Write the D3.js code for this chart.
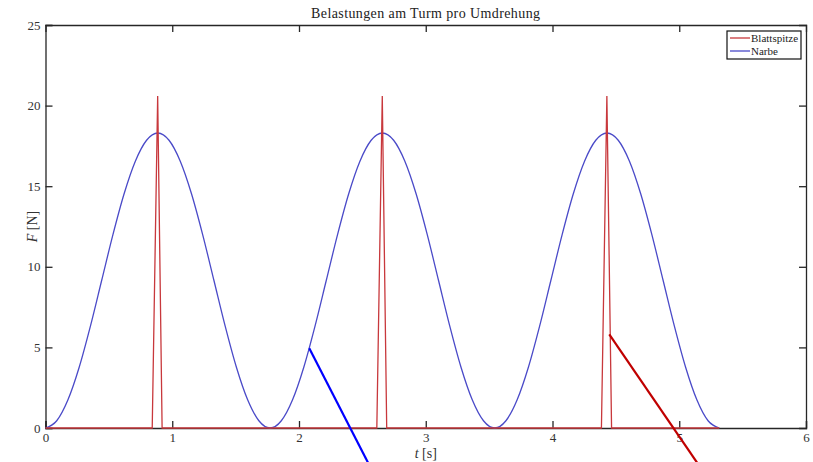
<!DOCTYPE html>
<html>
<head>
<meta charset="utf-8">
<script src="https://cdn.jsdelivr.net/npm/d3@7"></script>
<style>
  body { margin: 0; background: #fff; }
  svg { display: block; font-family: "Liberation Serif", "Times New Roman", serif; }
</style>
</head>
<body>
<div id="chart"></div>
<script>
// Narbe: one value every ~0.0886 s (three humps)
var narbeT = [];
var narbeHump = [0, 0.45, 1.75, 3.77, 6.32, 9.15, 11.98, 14.53, 16.55, 17.85, 18.3,
                 17.85, 16.55, 14.53, 11.98, 9.15, 6.32, 3.77, 1.75, 0.45];
var narbeF = [].concat(narbeHump, narbeHump, narbeHump, [0]);
var narbeStep = 0.0886;
narbeF.forEach(function(d, i) { narbeT.push(i * narbeStep); });

// Blattspitze: short spikes once per turn
var blattT = [0, 0.842, 0.885, 0.92, 2.614, 2.657, 2.692, 4.386, 4.429, 4.466, 5.316];
var blattF = [0, 0,     20.6,  0,    0,     20.6,  0,     0,     20.6,  0,     0];

// the two annotation strokes (run off the bottom of the page)
var blueMarkT = [2.081, 2.6];
var blueMarkF = [4.95, -3];
var redMarkT = [4.448, 5.215];
var redMarkF = [5.81, -3];

var xTicks = [0, 1, 2, 3, 4, 5, 6];
var yTicks = [0, 5, 10, 15, 20, 25];

var W = 813, H = 462;
var margin = {top: 25, right: 7, bottom: 34, left: 45.5};
var width = W - margin.left - margin.right,
    height = H - margin.top - margin.bottom;

var svg = d3.select("#chart").append("svg")
  .attr("width", W)
  .attr("height", H);

var g = svg.append("g")
  .attr("transform", "translate(" + margin.left + "," + margin.top + ")");

var x = d3.scaleLinear().domain([0, 6]).range([0, width]);
var y = d3.scaleLinear().domain([0, 25]).range([height, 0]);

var axisColor = "#262626";

// axes with inward ticks on all four sides
var xAxis = g.append("g")
  .attr("transform", "translate(0," + height + ")")
  .call(d3.axisBottom(x).tickValues(xTicks).tickSize(-7).tickPadding(5).tickFormat(d3.format("d")));
var xTop = g.append("g")
  .call(d3.axisTop(x).tickValues(xTicks).tickSize(-7).tickFormat(""));
var yAxis = g.append("g")
  .call(d3.axisLeft(y).tickValues(yTicks).tickSize(-7).tickPadding(5).tickFormat(d3.format("d")));
var yRight = g.append("g")
  .attr("transform", "translate(" + width + ",0)")
  .call(d3.axisRight(y).tickValues(yTicks).tickSize(-7).tickFormat(""));

[xAxis, xTop, yAxis, yRight].forEach(function(a) {
  a.selectAll("path, line").attr("stroke", axisColor).attr("stroke-width", 1.3);
  a.selectAll("text").attr("fill", "#333").style("font-size", "13px")
    .style("font-family", "Liberation Serif, serif");
});
// drop the corner tick duplicates the frame already has
xTop.selectAll(".tick").filter(function(d) { return d === 0 || d === 6; }).remove();
yRight.selectAll(".tick").filter(function(d) { return d === 0 || d === 25; }).remove();

var line = d3.line()
  .x(function(d) { return x(d[0]); })
  .y(function(d) { return y(d[1]); });

var narbeLine = d3.line()
  .x(function(d) { return x(d[0]); })
  .y(function(d) { return y(d[1]); })
  .curve(d3.curveMonotoneX);

var narbeData = narbeT.map(function(t, i) { return [t, narbeF[i]]; });
var blattData = blattT.map(function(t, i) { return [t, blattF[i]]; });

g.append("path")
  .datum(narbeData)
  .attr("d", narbeLine)
  .attr("fill", "none")
  .attr("stroke", "#4a4ac8")
  .attr("stroke-width", 1.3);

g.append("path")
  .datum(blattData)
  .attr("d", line)
  .attr("fill", "none")
  .attr("stroke", "#c8383c")
  .attr("stroke-width", 1.3);

// annotation strokes
g.append("path")
  .datum(blueMarkT.map(function(t, i) { return [t, blueMarkF[i]]; }))
  .attr("d", line)
  .attr("fill", "none")
  .attr("stroke", "#0000ff")
  .attr("stroke-width", 2.2);

g.append("path")
  .datum(redMarkT.map(function(t, i) { return [t, redMarkF[i]]; }))
  .attr("d", line)
  .attr("fill", "none")
  .attr("stroke", "#c00000")
  .attr("stroke-width", 2.2);

// title
svg.append("text")
  .attr("x", margin.left + width / 2)
  .attr("y", 18)
  .attr("text-anchor", "middle")
  .attr("fill", "#222")
  .style("font-size", "14px")
  .style("letter-spacing", "0.4px")
  .text("Belastungen am Turm pro Umdrehung");

// axis labels
var xLab = svg.append("text")
  .attr("x", margin.left + width / 2)
  .attr("y", 458)
  .attr("text-anchor", "middle")
  .attr("fill", "#333")
  .style("font-size", "14px");
xLab.append("tspan").style("font-style", "italic").text("t");
xLab.append("tspan").text(" [s]");

var yLab = svg.append("text")
  .attr("transform", "translate(37," + (margin.top + height / 2) + ") rotate(-90)")
  .attr("text-anchor", "middle")
  .attr("fill", "#333")
  .style("font-size", "14px");
yLab.append("tspan").style("font-style", "italic").text("F");
yLab.append("tspan").text(" [N]");

// legend
var legend = svg.append("g").attr("transform", "translate(727,31)");
legend.append("rect")
  .attr("width", 74).attr("height", 28)
  .attr("fill", "#fff").attr("stroke", "#111").attr("stroke-width", 1.2);
var legendItems = [["Blattspitze", "#c8383c"], ["Narbe", "#4a4ac8"]];
legendItems.forEach(function(item, i) {
  var row = legend.append("g").attr("transform", "translate(0," + (7 + i * 13) + ")");
  row.append("line").attr("x1", 3).attr("x2", 23).attr("y1", 0).attr("y2", 0)
    .attr("stroke", item[1]).attr("stroke-width", 1.3);
  row.append("text").attr("x", 24).attr("y", 4)
    .attr("fill", "#222").style("font-size", "11px").text(item[0]);
});
</script>
</body>
</html>
